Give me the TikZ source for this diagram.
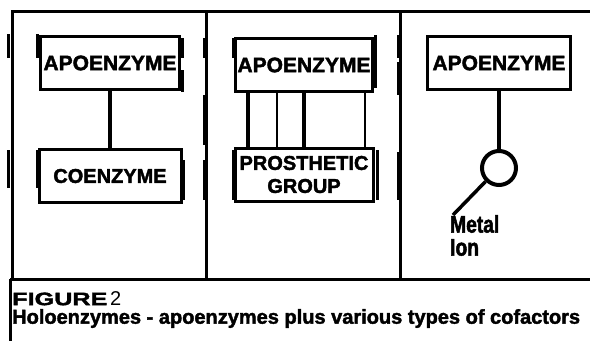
\documentclass[tikz,border=0pt]{standalone}
\usepackage{fontspec}
\setmainfont{Liberation Sans}
\newfontfamily\heavyfont{Liberation Sans}[BoldFeatures={FakeBold=2}]
\newfontfamily\tallfont{Liberation Sans}[BoldFeatures={FakeBold=2,FakeStretch=0.8}]
\newfontfamily\widefont{Liberation Sans}[BoldFeatures={FakeBold=2,FakeStretch=1.4}]
\begin{document}
\begin{tikzpicture}[x=1pt,y=-1pt,
  enzbox/.style={draw,line width=3pt,minimum height=53pt,inner sep=0pt,
    font=\heavyfont\bfseries\fontsize{20}{23}\selectfont,align=center},
  frame/.style={line width=3pt},
  link/.style={line width=3.5pt},
  scratch/.style={line width=3pt}]
 \useasboundingbox (0,0) rectangle (590,341);
 % frame and panels
 \draw[frame] (12,279) -- (12,11) -- (590,11);
 \draw[frame] (10,279) -- (590,279);
 \draw[frame] (10,279) -- (10,341);
 \draw[frame] (206,11) -- (206,279);
 \draw[frame] (400,11) -- (400,279);
 \foreach \sx/\sa/\sb in {8/34/58,8/150/188,37/34/58,37/150/188,
     182/38/58,182/70/92,183/160/200,204/38/58,204/95/145,204/160/200,
     233/38/58,233/150/200,375/35/88,377/150/200,
     398/35/58,398/62/95,398/152/200} {
    \draw[scratch] (\sx,\sa) -- (\sx,\sb);
 }
 % coenzyme
 \node[enzbox,minimum width=139pt,font=\heavyfont\bfseries\fontsize{21}{23}\selectfont] (apoone) at (110,63) {APOENZYME};
 \node[enzbox,minimum width=142pt] (coenz) at (110,176) {COENZYME};
 \draw[link] (apoone) -- (coenz);
 % prosthetic group
 \node[enzbox,minimum width=137pt,font=\heavyfont\bfseries\fontsize{21}{23}\selectfont] (apotwo) at (304,65) {APOENZYME};
 \node[enzbox,minimum width=138pt] (prosth) at (304,174.5) {PROSTHETIC\\GROUP};
 \foreach \dx/\lw in {-56/3.5,-27/2.5,0/3.5,61/2.5} {
    \draw[line width=\lw pt] ([xshift=\dx pt]apotwo.south) -- ([xshift=\dx pt]prosth.north);
 }
 % metal ion
 \node[enzbox,minimum width=143pt,font=\heavyfont\bfseries\fontsize{21}{23}\selectfont] (apothree) at (499,63) {APOENZYME};
 \node[circle,draw,line width=4pt,minimum size=34pt,inner sep=0pt] (ion) at (499,168) {};
 \node[anchor=north west,inner sep=0pt,align=left,font=\tallfont\bfseries\fontsize{24}{23}\selectfont] (metal) at (450,215) {Metal\\Ion};
 \draw[link] (apothree) -- (ion);
 \draw[link] (ion.225) -- ([xshift=3pt]metal.north west);
 % caption
 \node[anchor=north west,inner sep=0pt] (figno) at (12,291)
   {{\widefont\bfseries\fontsize{18}{20}\selectfont FIGURE}\ \fontsize{20}{20}\selectfont 2};
 \node[anchor=north west,inner sep=0pt,font=\heavyfont\bfseries\fontsize{20}{22}\selectfont] (caption) at (12,309)
   {Holoenzymes - apoenzymes plus various types of cofactors};
\end{tikzpicture}
\end{document}
